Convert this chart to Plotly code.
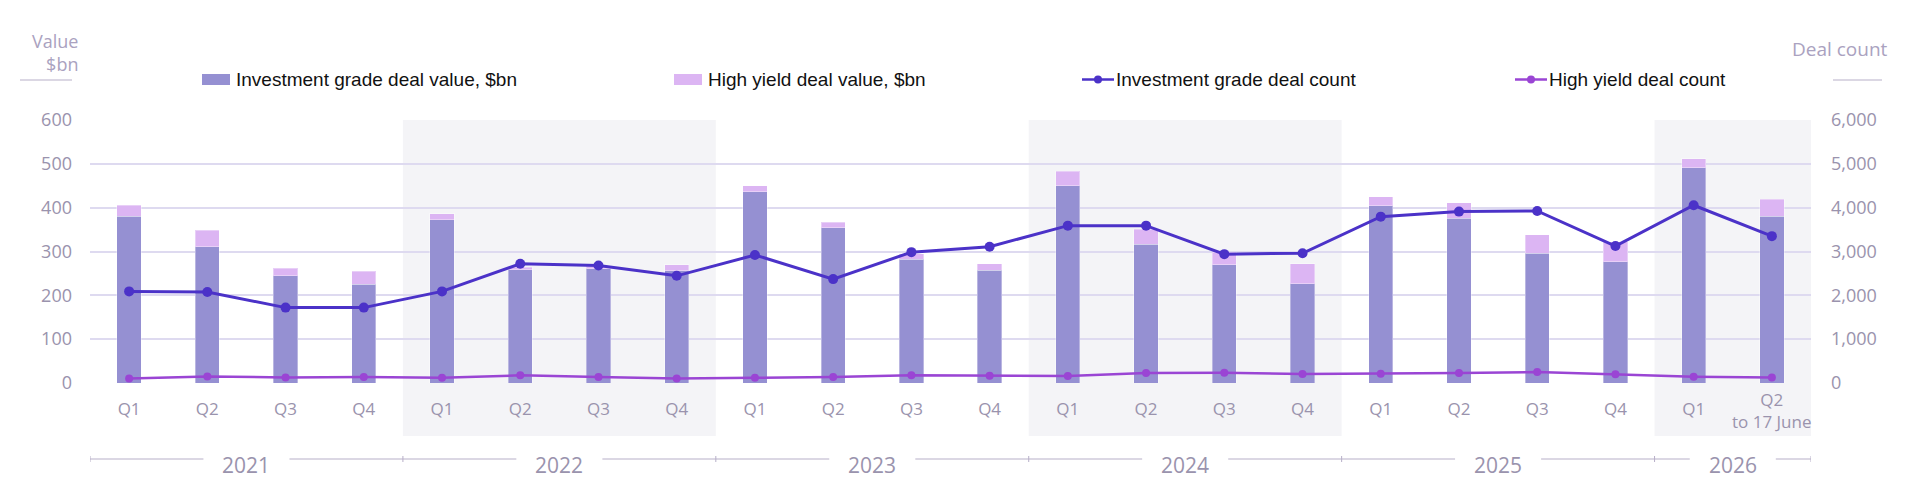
import plotly.graph_objects as go

# ---------------- data ----------------
periods = ["Q1 2021", "Q2 2021", "Q3 2021", "Q4 2021",
           "Q1 2022", "Q2 2022", "Q3 2022", "Q4 2022",
           "Q1 2023", "Q2 2023", "Q3 2023", "Q4 2023",
           "Q1 2024", "Q2 2024", "Q3 2024", "Q4 2024",
           "Q1 2025", "Q2 2025", "Q3 2025", "Q4 2025",
           "Q1 2026", "Q2 2026"]
quarter_labels = ["Q1", "Q2", "Q3", "Q4"] * 5 + ["Q1", "Q2<br>to 17 June"]
years = ["2021", "2022", "2023", "2024", "2025", "2026"]
year_quarters = [4, 4, 4, 4, 4, 2]

ig_value = [381, 311, 245, 225, 372, 258, 261, 256, 436, 354, 282, 257,
            450, 317, 270, 226, 404, 376, 296, 277, 491, 381]
hy_value = [25, 37, 17, 30, 14, 6, 5, 14, 14, 13, 13, 15,
            33, 34, 28, 46, 21, 35, 42, 45, 21, 38]
ig_count = [2090, 2075, 1720, 1720, 2090, 2720, 2680, 2445, 2920, 2370, 2985, 3110,
            3590, 3590, 2940, 2960, 3795, 3910, 3925, 3125, 4055, 3350]
hy_count = [105, 150, 128, 137, 120, 175, 136, 105, 120, 137, 174, 166,
            159, 228, 235, 205, 212, 228, 250, 197, 144, 128]

left_ticks = [0, 100, 200, 300, 400, 500, 600]
right_ticks = [0, 1000, 2000, 3000, 4000, 5000, 6000]

# ---------------- styles ----------------
W, H = 1919, 501
ML, MR, MT, MB = 90, 108, 120, 118
PW, PH = W - ML - MR, H - MT - MB

C_IG = "#9590d2"
C_HY = "#dcb5f3"
C_IGL = "#4b32c8"
C_HYL = "#9a45d4"
C_GRID = "#dedaf0"
C_SHADE = "#f4f4f7"
C_TICK = "#9a93ad"
C_TITLE = "#aaa2c0"
C_YEARLINE = "#b7afc8"
FONT = "Open Sans"


def px(x):
    return (x - ML) / PW


def py(y):
    return (H - MB - y) / PH


fig = go.Figure()
fig.add_trace(go.Bar(x=periods, y=ig_value, name="Investment grade deal value, $bn",
                     marker=dict(color=C_IG, line=dict(color="rgba(255,255,255,0.35)", width=1)),
                     width=0.31, showlegend=False))
fig.add_trace(go.Bar(x=periods, y=hy_value, name="High yield deal value, $bn",
                     marker=dict(color=C_HY, line=dict(color="rgba(255,255,255,0.35)", width=1)),
                     width=0.31, showlegend=False))
fig.add_trace(go.Scatter(x=periods, y=ig_count, yaxis="y2", mode="lines+markers",
                         name="Investment grade deal count",
                         line=dict(color=C_IGL, width=3), marker=dict(size=10, color=C_IGL),
                         showlegend=False))
fig.add_trace(go.Scatter(x=periods, y=hy_count, yaxis="y2", mode="lines+markers",
                         name="High yield deal count",
                         line=dict(color=C_HYL, width=2.5), marker=dict(size=8, color=C_HYL),
                         showlegend=False))

shapes = []
annotations = []

# shaded year bands (2022, 2024, 2026)
start = 0
bounds = []
for yq in year_quarters:
    bounds.append((start - 0.5, start + yq - 0.5))
    start += yq
for i, (a, b) in enumerate(bounds):
    if i % 2 == 1:
        shapes.append(dict(type="rect", xref="x", yref="paper", x0=a, x1=b,
                           y0=py(436), y1=1, fillcolor=C_SHADE, line=dict(width=0),
                           layer="below"))

# year axis line with gaps and ticks
y_line = py(459)
gap = 0.55
for (a, b), yr in zip(bounds, years):
    c = (a + b) / 2
    shapes.append(dict(type="line", xref="x", yref="paper", x0=a, x1=c - gap,
                       y0=y_line, y1=y_line, line=dict(color=C_YEARLINE, width=1)))
    shapes.append(dict(type="line", xref="x", yref="paper", x0=c + gap, x1=b,
                       y0=y_line, y1=y_line, line=dict(color=C_YEARLINE, width=1)))
    annotations.append(dict(x=c, y=py(465), xref="x", yref="paper", text=yr,
                            showarrow=False, xanchor="center", yanchor="middle",
                            font=dict(family=FONT, size=21, color=C_TICK)))
tick_pos = [bounds[0][0]] + [b for _, b in bounds]
for t in tick_pos:
    shapes.append(dict(type="line", xref="x", yref="paper", x0=t, x1=t,
                       y0=py(456), y1=py(462), line=dict(color=C_YEARLINE, width=1)))

# last quarter label (two lines, centred)
ticktext = quarter_labels[:-1] + [""]
annotations.append(dict(x=periods[-1], y=py(410.5), xref="x", yref="paper",
                        text=quarter_labels[-1], showarrow=False, xanchor="center",
                        yanchor="middle", align="center",
                        font=dict(family=FONT, size=17, color=C_TICK)))

# axis titles
annotations.append(dict(x=px(80), y=py(53), xref="paper", yref="paper", text="Value<br>$bn",
                        showarrow=False, xanchor="right", yanchor="middle", align="right",
                        font=dict(family=FONT, size=18, color=C_TITLE)))
shapes.append(dict(type="line", xref="paper", yref="paper", x0=px(20), x1=px(72),
                   y0=py(80), y1=py(80), line=dict(color=C_YEARLINE, width=1)))
annotations.append(dict(x=px(1790), y=py(49), xref="paper", yref="paper", text="Deal count",
                        showarrow=False, xanchor="left", yanchor="middle",
                        font=dict(family=FONT, size=19, color=C_TITLE)))
shapes.append(dict(type="line", xref="paper", yref="paper", x0=px(1833), x1=px(1882),
                   y0=py(80), y1=py(80), line=dict(color=C_YEARLINE, width=1)))

# manual legend
LEG_Y = 79.5
LFONT = dict(family="Liberation Sans, Arial", size=19, color="#111111")
legend_items = [
    ("bar", C_IG, 202, "Investment grade deal value, $bn"),
    ("bar", C_HY, 674, "High yield deal value, $bn"),
    ("line", C_IGL, 1082, "Investment grade deal count"),
    ("line", C_HYL, 1515, "High yield deal count"),
]
for kind, col, x0, label in legend_items:
    if kind == "bar":
        shapes.append(dict(type="rect", xref="paper", yref="paper",
                           x0=px(x0), x1=px(x0 + 28), y0=py(LEG_Y + 5.5), y1=py(LEG_Y - 5.5),
                           fillcolor=col, line=dict(width=0)))
    else:
        shapes.append(dict(type="line", xref="paper", yref="paper",
                           x0=px(x0), x1=px(x0 + 32), y0=py(LEG_Y), y1=py(LEG_Y),
                           line=dict(color=col, width=2.5)))
        shapes.append(dict(type="circle", xref="paper", yref="paper",
                           x0=px(x0 + 12), x1=px(x0 + 20), y0=py(LEG_Y + 4), y1=py(LEG_Y - 4),
                           fillcolor=col, line=dict(width=0)))
    annotations.append(dict(x=px(x0 + 32), y=py(LEG_Y), xref="paper", yref="paper",
                            text=label, showarrow=False, xanchor="left", yanchor="middle",
                            font=LFONT))

fig.update_layout(
    width=W, height=H,
    margin=dict(l=ML, r=MR, t=MT, b=MB, pad=0),
    paper_bgcolor="white", plot_bgcolor="rgba(0,0,0,0)",
    barmode="stack", bargap=0.69,
    showlegend=False,
    font=dict(family=FONT, color=C_TICK),
    xaxis=dict(type="category", categoryorder="array", categoryarray=periods,
               tickvals=periods, ticktext=ticktext, showgrid=False, zeroline=False,
               showline=False, ticks="", ticklabelstandoff=14,
               tickfont=dict(family=FONT, size=17, color=C_TICK),
               range=[-0.5, len(periods) - 0.5]),
    yaxis=dict(range=[0, 600], tickvals=left_ticks, showgrid=True, gridcolor=C_GRID,
               gridwidth=1.5, zeroline=False, showline=False, ticks="",
               ticklabelstandoff=17, tickfont=dict(family=FONT, size=18, color=C_TICK)),
    yaxis2=dict(range=[0, 6000], tickvals=right_ticks, tickformat=",", overlaying="y",
                side="right", showgrid=False, zeroline=False, showline=False, ticks="",
                ticklabelstandoff=19, tickfont=dict(family=FONT, size=18, color=C_TICK)),
    shapes=shapes,
    annotations=annotations,
)

fig.write_html("out.html")
